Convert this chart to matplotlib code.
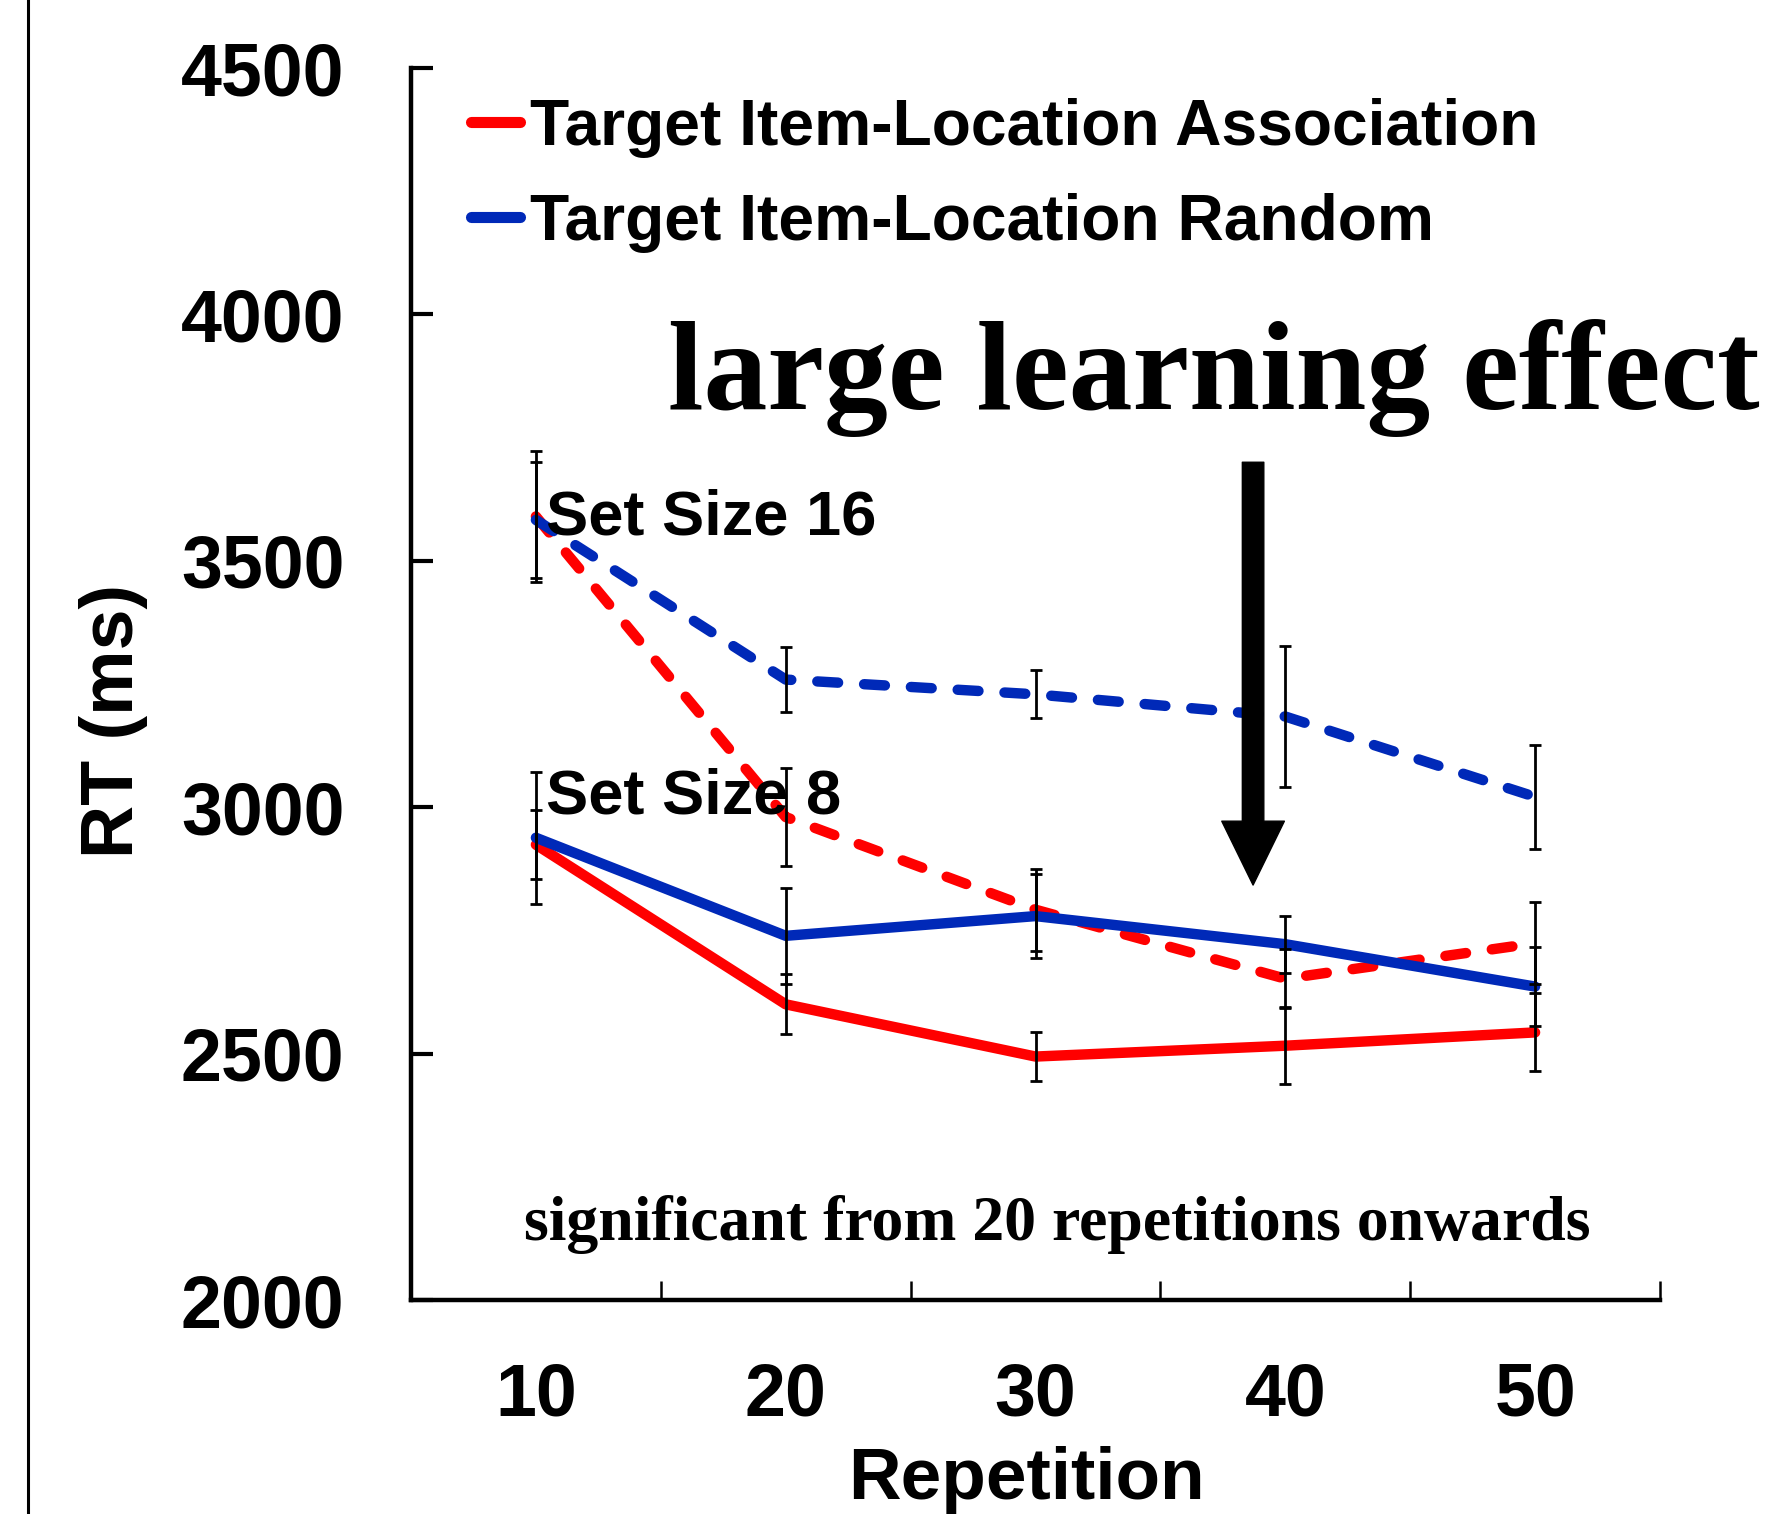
import matplotlib
matplotlib.use("Agg")
import matplotlib.pyplot as plt
from matplotlib.lines import Line2D

# ---- data ----
repetitions = ["10", "20", "30", "40", "50"]
assoc_16 = [3590, 2980, 2792, 2652, 2724]
assoc_16_err = [133, 100, 83, 60, 83]
random_16 = [3583, 3259, 3229, 3184, 3021]
random_16_err = [118, 66, 49, 144, 105]
assoc_8 = [2924, 2600, 2494, 2516, 2543]
assoc_8_err = [70, 61, 50, 78, 79]
random_8 = [2938, 2739, 2779, 2722, 2636]
random_8_err = [134, 97, 85, 58, 81]
y_ticks = [2000, 2500, 3000, 3500, 4000, 4500]
legend_labels = ["Target Item-Location Association", "Target Item-Location Random"]

RED = "#FF0000"
BLUE = "#0029B8"
SANS = ["Liberation Sans", "DejaVu Sans"]
SERIF = ["Liberation Serif", "DejaVu Serif"]

W, H, DPI = 1777, 1514, 100
fig = plt.figure(figsize=(W / DPI, H / DPI), dpi=DPI)
fig.patch.set_facecolor("white")

L, R, T, B = 411, 1660, 68, 1300
ax = fig.add_axes([L / W, 1 - B / H, (R - L) / W, (B - T) / H])

x = list(range(1, len(repetitions) + 1))
lw = 7.5
dash = (2.0, 2.5)

common = dict(lw=lw, solid_capstyle="round", dash_capstyle="round",
              solid_joinstyle="round", dash_joinstyle="round")
ax.plot(x, assoc_16, color=RED, ls=(0, dash), zorder=2, **common)
ax.plot(x, assoc_8, color=RED, ls="-", zorder=2, **common)
ax.plot(x, random_16, color=BLUE, ls=(0, dash), zorder=3, **common)
ax.plot(x, random_8, color=BLUE, ls="-", zorder=3, **common)

for vals, errs in [(assoc_16, assoc_16_err), (random_16, random_16_err),
                   (assoc_8, assoc_8_err), (random_8, random_8_err)]:
    ax.errorbar(x, vals, yerr=errs, fmt="none", ecolor="black",
                elinewidth=2.0, capsize=4.5, capthick=2.0, zorder=4)

ax.set_xlim(0.5, len(repetitions) + 0.5)
ax.set_ylim(2000, 4500)
ax.set_yticks(y_ticks)
ax.set_yticklabels([str(v) for v in y_ticks], fontfamily=SANS,
                   fontweight="bold", fontsize=53)
# category boundaries as major ticks, category labels as minor ticks
ax.set_xticks([i + 0.5 for i in x])
ax.set_xticklabels([])
ax.set_xticks(x, minor=True)
ax.set_xticklabels(repetitions, minor=True, fontfamily=SANS,
                   fontweight="bold", fontsize=53)
ax.tick_params(axis="x", which="major", direction="in", length=14, width=1.8)
ax.tick_params(axis="x", which="minor", length=0, pad=44)
ax.tick_params(axis="y", direction="in", length=16, width=3, pad=48)

for s in ["top", "right"]:
    ax.spines[s].set_visible(False)
for s in ["left", "bottom"]:
    ax.spines[s].set_linewidth(3.2)

ax.set_ylabel("RT (ms)", fontfamily=SANS, fontweight="bold", fontsize=53,
              va="center")
ax.yaxis.set_label_coords(-0.2378, 0.470)
ax.set_xlabel("Repetition", fontfamily=SANS, fontweight="bold", fontsize=52.5,
              va="baseline")
ax.xaxis.set_label_coords(0.4924, -0.1615)

handles = [Line2D([], [], color=RED, lw=8, solid_capstyle="round"),
           Line2D([], [], color=BLUE, lw=8, solid_capstyle="round")]
leg = ax.legend(handles, legend_labels, loc="upper left",
                bbox_to_anchor=(0.048, 0.976), frameon=False,
                prop=dict(family=SANS, weight="bold", size=46.2),
                handlelength=0.76, handletextpad=0.16, labelspacing=0.55,
                borderpad=0, borderaxespad=0)

ax.text(1.04, 3554, "Set Size 16", fontfamily=SANS, fontweight="bold",
        fontsize=45.5, ha="left", va="baseline", zorder=6)
ax.text(1.04, 2988, "Set Size 8", fontfamily=SANS, fontweight="bold",
        fontsize=45.5, ha="left", va="baseline", zorder=6)

ax.text(0.2058, 0.7232, "large learning effect", transform=ax.transAxes,
        fontfamily=SERIF, fontweight="bold", fontsize=92, ha="left",
        va="baseline", zorder=6, clip_on=False)
ax.text(0.5176, (B - 1240) / (B - T), "significant from 20 repetitions onwards",
        transform=ax.transAxes, fontfamily=SERIF, fontweight="bold",
        fontsize=45.9, ha="center", va="baseline", zorder=6)

ax.annotate("", xy=(3.871, 2842), xytext=(3.871, 3700),
            arrowprops=dict(arrowstyle="simple,head_length=1.0,head_width=0.98,tail_width=0.336",
                            mutation_scale=46, color="black", shrinkA=0, shrinkB=0),
            zorder=6)

fig.add_artist(Line2D([28 / W, 28 / W], [0, 1], transform=fig.transFigure,
                      color="black", lw=2.2))

fig.savefig("out.png", dpi=DPI, facecolor="white")
